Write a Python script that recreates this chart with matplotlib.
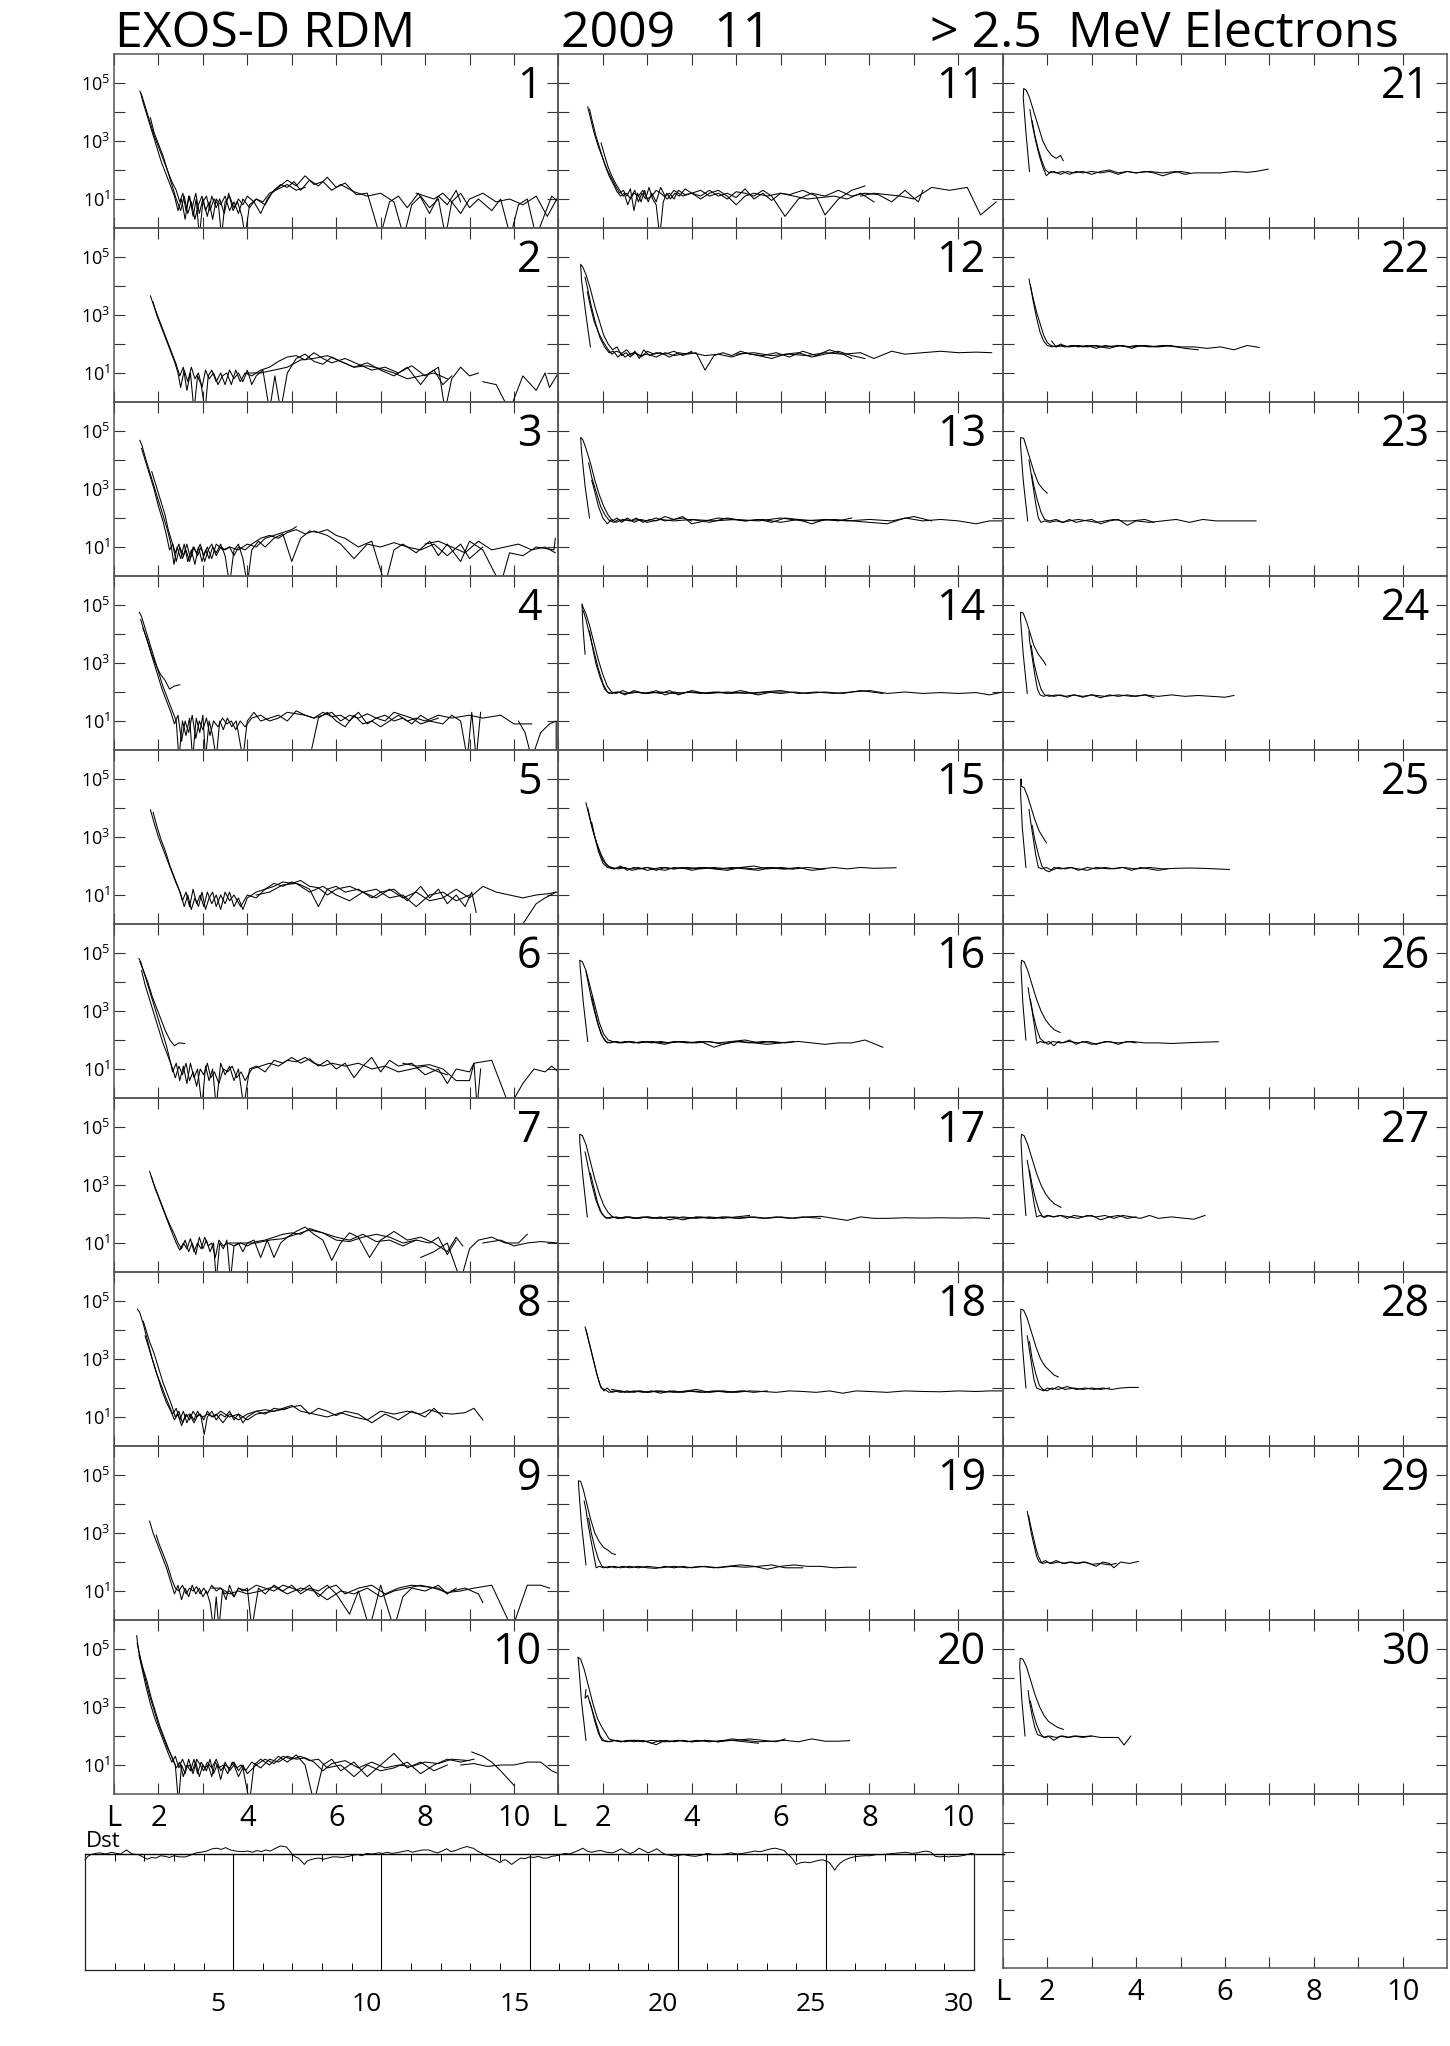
import numpy as np
import matplotlib
matplotlib.use('Agg')
import matplotlib.pyplot as plt
from matplotlib.transforms import blended_transform_factory

plt.rcParams['font.family'] = ['Open Sans', 'DejaVu Sans']

# ---- flux passes per day: (L, log10 flux) -------------------------------
P1 = [
 [(1.58,4.72),(1.62,4.6),(1.7,4.2),(1.8,3.7),(1.9,3.2),(2.0,2.8),(2.1,2.4),(2.2,2.0),(2.3,1.6),(2.4,1.3),(2.48,0.9),(2.55,1.2),(2.62,0.6),(2.7,1.1),(2.78,0.4),(2.85,1.0),(2.92,-0.3),(3.0,0.9),(3.08,1.1),(3.16,0.6),(3.25,1.0),(3.35,0.8),(3.42,-0.3),(3.5,0.9),(3.6,1.1),(3.7,0.7),(3.8,1.0),(3.9,0.8),(4.0,1.1),(4.15,0.9),(4.3,0.5),(4.45,1.0),(4.6,1.3),(4.75,1.5),(4.9,1.4),(5.05,1.6),(5.2,1.3),(5.4,1.65),(5.6,1.45),(5.8,1.75),(6.0,1.4),(6.2,1.55),(6.45,1.15),(6.7,1.2),(6.99,-0.3),(7.2,0.9),(7.4,1.1),(7.6,0.7),(7.85,1.2),(8.1,0.5),(8.3,1.1),(8.5,0.8),(8.7,1.3),(8.8,0.9)],
 [(1.6,4.65),(1.66,4.3),(1.76,3.8),(1.86,3.3),(1.96,2.8),(2.06,2.3),(2.16,1.9),(2.26,1.5),(2.36,1.1),(2.44,0.6),(2.52,1.0),(2.6,0.3),(2.68,1.1),(2.76,0.7),(2.84,1.2),(2.92,0.5),(3.0,1.0),(3.1,0.4),(3.2,1.1),(3.3,0.7),(3.38,1.0),(3.48,0.5),(3.58,1.2),(3.68,0.6),(3.78,0.9),(3.88,0.4),(3.95,-0.3),(4.05,0.8),(4.2,1.0),(4.4,0.8),(4.55,1.2),(4.7,1.4),(4.9,1.65),(5.1,1.45),(5.3,1.8),(5.5,1.5),(5.7,1.6),(5.9,1.3),(6.1,1.5),(6.4,1.25),(6.7,1.1),(7.0,1.2),(7.3,0.9),(7.52,-0.3),(7.7,0.8),(7.9,1.1),(8.1,0.7),(8.3,1.0),(8.46,-0.3),(8.6,0.9),(8.8,1.2),(9.0,0.7),(9.2,1.0),(9.5,0.6),(9.7,1.0),(9.92,-0.3),(10.1,0.8),(10.3,1.0),(10.5,-0.3),(10.7,0.5),(10.85,1.1),(11.0,0.9)],
 [(1.82,3.8),(1.9,3.3),(2.0,2.9),(2.1,2.5),(2.2,2.0),(2.3,1.5),(2.4,1.0),(2.5,0.6),(2.58,1.1),(2.66,0.5),(2.74,0.9),(2.82,0.3),(2.9,0.8),(2.98,1.1),(3.06,0.6),(3.14,0.9),(3.22,0.3),(3.3,1.0),(3.4,0.8),(3.5,1.1),(3.6,0.6),(3.7,0.9),(3.8,0.5),(3.9,1.0),(4.05,0.7),(4.2,1.0),(4.35,0.9),(4.5,1.2),(4.7,1.35),(4.9,1.5),(5.1,1.3),(5.3,1.4)],
 [(7.8,1.2),(8.0,1.1),(8.2,1.0),(8.4,1.2),(8.6,0.9),(8.8,0.5),(9.0,1.0),(9.3,1.2),(9.6,0.9),(9.9,1.0),(10.2,0.8),(10.5,1.1),(10.75,0.4),(11.0,1.1)],
]
P2 = [
 [(1.82,3.66),(1.9,3.3),(2.0,2.9),(2.1,2.5),(2.2,2.1),(2.3,1.7),(2.4,1.3),(2.48,0.9),(2.56,1.2),(2.64,0.4),(2.72,1.0),(2.8,-0.3),(2.88,0.9),(2.96,0.6),(3.05,-0.3),(3.12,0.9),(3.2,1.1),(3.3,0.7),(3.4,1.0),(3.5,0.6),(3.6,1.1),(3.7,0.8),(3.8,1.0),(3.9,0.7),(4.0,1.1),(4.1,0.6),(4.2,0.9),(4.35,1.1),(4.5,-0.3),(4.62,0.9),(4.75,-0.3),(4.9,1.0),(5.1,1.5),(5.3,1.65),(5.5,1.4),(5.7,1.3),(5.9,1.55),(6.1,1.4),(6.4,1.2),(6.7,1.35),(7.0,1.1),(7.3,0.9),(7.6,1.2),(7.9,0.6),(8.1,1.0),(8.3,1.2),(8.45,-0.3),(8.6,0.8),(8.8,1.2),(9.0,0.9),(9.2,1.0)],
 [(1.88,3.45),(1.96,3.0),(2.06,2.6),(2.16,2.2),(2.26,1.8),(2.36,1.4),(2.44,1.0),(2.5,0.5),(2.58,1.1),(2.66,0.7),(2.74,1.2),(2.82,0.8),(2.9,1.0),(2.98,0.5),(3.06,1.1),(3.14,0.8),(3.24,1.0),(3.34,0.6),(3.44,0.9),(3.54,1.0),(3.64,0.6),(3.74,1.1),(3.84,0.7),(3.95,1.0),(4.1,0.9),(4.3,1.1),(4.5,1.2),(4.7,1.4),(4.9,1.55),(5.1,1.6),(5.3,1.45),(5.5,1.7),(5.7,1.5),(5.9,1.35),(6.2,1.5),(6.5,1.3),(6.8,1.1),(7.1,1.2),(7.4,1.0),(7.7,1.25),(8.0,0.9),(8.2,1.1),(8.4,0.6),(8.6,0.9)],
 [(4.0,1.0),(4.3,1.0),(4.6,1.1),(4.9,1.2),(5.2,1.45),(5.5,1.5),(5.8,1.6),(6.1,1.4),(6.4,1.2),(6.7,1.25),(7.0,1.15),(7.3,1.0),(7.6,0.8),(7.9,0.9),(8.2,1.0),(8.5,0.8)],
 [(9.3,0.7),(9.6,0.6),(9.9,-0.3),(10.2,0.9),(10.5,0.4),(10.7,1.0),(10.8,0.5),(11.0,1.0)],
]
P3 = [
 [(1.58,4.68),(1.63,4.5),(1.72,4.0),(1.82,3.5),(1.92,3.0),(2.02,2.5),(2.12,2.0),(2.2,1.6),(2.28,1.1),(2.35,0.4),(2.42,1.0),(2.5,0.6),(2.58,1.1),(2.66,0.5),(2.74,0.9),(2.82,0.4),(2.9,1.0),(2.98,0.5),(3.06,0.9),(3.14,0.6),(3.22,1.0),(3.3,0.8),(3.4,1.1),(3.5,0.7),(3.6,-0.3),(3.7,0.9),(3.8,1.1),(3.9,0.6),(4.0,-0.3),(4.1,0.9),(4.25,1.2),(4.4,1.0),(4.6,1.3),(4.8,1.45),(5.0,0.5),(5.2,1.3),(5.4,1.55),(5.6,1.5),(5.8,1.6),(6.0,1.4),(6.2,1.3),(6.5,1.0),(6.8,1.2),(7.1,-0.3),(7.3,0.9),(7.5,1.1),(7.8,0.8),(8.1,1.2),(8.3,0.7),(8.5,1.1),(8.8,0.5),(9.0,1.2),(9.3,0.9),(9.7,-0.3),(9.9,0.8),(10.2,0.7),(10.5,1.0),(10.9,0.9),(10.93,1.3)],
 [(1.62,4.4),(1.7,4.0),(1.8,3.5),(1.9,3.0),(2.0,2.4),(2.1,1.9),(2.18,1.4),(2.25,0.9),(2.32,1.1),(2.4,0.5),(2.48,1.0),(2.56,0.7),(2.64,1.1),(2.72,0.6),(2.8,1.0),(2.88,0.7),(2.96,1.0),(3.04,0.5),(3.12,0.9),(3.2,1.1),(3.3,0.7),(3.4,1.0),(3.5,0.9),(3.6,1.0),(3.7,0.7),(3.8,1.0),(3.95,0.9),(4.1,1.1),(4.3,1.3),(4.5,1.4),(4.7,1.3),(4.9,1.5),(5.1,1.6),(5.3,1.45),(5.5,1.55),(5.8,1.4),(6.1,1.1),(6.4,0.6),(6.7,1.1),(7.0,1.0),(7.3,1.15),(7.6,1.0),(7.9,0.9),(8.2,1.1),(8.5,0.7),(8.8,1.1),(9.0,0.6),(9.3,1.0)],
 [(1.85,3.6),(1.95,3.1),(2.05,2.6),(2.15,2.1),(2.22,1.6),(2.3,1.2),(2.38,0.8),(2.46,1.1),(2.54,0.6),(2.62,0.9),(2.7,0.5),(2.78,1.0),(2.86,0.8),(2.94,1.1),(3.02,0.7),(3.1,1.0),(3.2,0.6),(3.3,1.1),(3.45,0.9),(3.6,1.0),(3.8,0.9),(4.0,1.1),(4.2,1.0),(4.4,1.3),(4.6,1.4),(4.8,1.5),(5.0,1.6),(5.1,1.7)],
 [(8.0,1.1),(8.3,1.2),(8.6,1.0),(8.9,0.8),(9.2,1.2),(9.5,0.9),(9.8,1.0),(10.1,1.1),(10.4,0.9),(10.7,1.0),(10.93,0.8)],
]
P4 = [
 [(1.57,4.75),(1.62,4.6),(1.7,4.2),(1.8,3.7),(1.9,3.2),(2.0,2.7),(2.1,2.2),(2.2,1.8),(2.3,1.4),(2.4,1.0),(2.46,-0.3),(2.54,1.0),(2.62,0.5),(2.7,1.1),(2.77,-0.3),(2.85,1.1),(2.93,0.6),(3.0,1.2),(3.06,-0.3),(3.14,1.0),(3.22,0.5),(3.3,-0.3),(3.38,1.0),(3.46,0.7),(3.55,1.1),(3.65,0.8),(3.75,1.0),(3.9,-0.3),(4.0,1.0),(4.15,1.3),(4.3,1.0),(4.5,1.1),(4.7,1.2),(4.9,1.0),(5.1,1.35),(5.3,1.2),(5.5,1.1),(5.7,1.3),(5.9,1.15),(6.1,1.2),(6.3,1.0),(6.5,1.3),(6.7,0.9),(6.9,1.1),(7.1,1.0),(7.3,1.3),(7.5,1.2),(7.7,1.1),(7.9,0.9),(8.1,1.0),(8.4,0.9),(8.6,1.2),(8.8,1.0),(8.95,-0.3),(9.05,1.3),(9.15,-0.3),(9.25,1.3)],
 [(1.6,4.5),(1.68,4.1),(1.78,3.6),(1.88,3.1),(1.98,2.6),(2.08,2.1),(2.18,1.7),(2.28,1.3),(2.36,0.9),(2.44,1.2),(2.52,0.3),(2.6,1.0),(2.68,0.6),(2.76,1.2),(2.84,0.4),(2.92,1.0),(3.0,0.7),(3.08,1.1),(3.16,0.5),(3.24,1.0),(3.34,0.8),(3.44,1.1),(3.54,0.9),(3.64,1.0),(3.74,0.7),(3.84,1.0),(3.95,0.8),(4.1,1.1),(4.3,1.2),(4.5,1.0),(4.7,1.1),(4.9,1.3),(5.1,1.25),(5.3,1.2),(5.5,1.1),(5.7,1.2),(5.9,1.3),(6.1,1.0),(6.3,1.2),(6.5,1.1),(6.7,1.25),(6.9,1.1),(7.1,1.2),(7.3,1.0),(7.5,1.1),(7.7,0.9),(7.9,1.2),(8.1,1.0),(8.3,1.1)],
 [(1.65,4.2),(1.75,3.8),(1.85,3.3),(1.95,2.9),(2.05,2.6),(2.15,2.4),(2.25,2.1),(2.35,2.2),(2.48,2.25)],
 [(5.4,-0.3),(5.6,1.1),(5.8,1.3),(6.0,1.0),(6.2,0.8),(6.4,1.2),(6.6,0.9),(6.8,1.0),(7.0,0.8),(7.2,1.0),(7.4,1.2),(7.6,1.0),(7.8,1.1),(8.0,1.0),(8.3,1.2),(8.6,1.1),(9.0,1.2),(9.3,1.1),(9.7,1.2),(10.0,0.9),(10.4,0.9)],
 [(10.1,1.0),(10.25,0.6),(10.4,-0.3),(10.6,0.6),(10.8,0.9),(10.95,1.0),(10.95,-0.3)],
]
P5 = [
 [(1.82,3.94),(1.9,3.5),(2.0,3.0),(2.1,2.6),(2.2,2.2),(2.3,1.8),(2.4,1.4),(2.5,1.05),(2.58,0.6),(2.66,1.0),(2.74,0.5),(2.82,0.9),(2.9,0.6),(2.98,1.1),(3.06,0.5),(3.14,0.9),(3.22,1.1),(3.3,0.6),(3.4,1.0),(3.5,0.7),(3.6,1.1),(3.7,0.6),(3.8,0.9),(3.9,0.5),(4.0,0.9),(4.2,1.1),(4.4,1.2),(4.6,1.4),(4.8,1.3),(5.0,1.45),(5.2,1.35),(5.4,1.2),(5.6,0.6),(5.8,1.2),(6.0,1.3),(6.2,1.1),(6.5,1.2),(6.8,0.9),(7.0,1.1),(7.3,1.2),(7.6,0.8),(7.9,1.3),(8.1,0.9),(8.3,1.2),(8.5,0.7),(8.7,1.0),(8.9,0.6),(9.05,1.1),(9.15,0.4)],
 [(1.88,3.85),(1.96,3.4),(2.06,2.9),(2.16,2.5),(2.26,2.0),(2.36,1.6),(2.46,1.2),(2.54,0.8),(2.62,1.1),(2.7,0.6),(2.78,1.2),(2.86,0.7),(2.94,1.0),(3.02,0.6),(3.1,1.1),(3.2,0.7),(3.3,1.0),(3.4,0.5),(3.5,1.1),(3.6,0.8),(3.7,1.0),(3.85,0.6),(4.0,1.0),(4.2,0.9),(4.4,1.2),(4.6,1.3),(4.8,1.45),(5.0,1.4),(5.2,1.5),(5.4,1.3),(5.6,1.25),(5.8,1.0),(6.0,1.2),(6.3,1.3),(6.6,1.1),(6.9,1.2),(7.2,0.9),(7.5,1.0),(7.8,0.6),(8.1,1.0),(8.4,1.1),(8.7,0.8),(9.0,1.0)],
 [(4.2,1.0),(4.5,1.1),(4.8,1.35),(5.1,1.4),(5.4,1.1),(5.7,1.3),(6.0,1.0),(6.3,0.8),(6.6,1.1),(6.9,0.9),(7.2,1.2),(7.5,0.9),(7.8,1.1),(8.1,0.8),(8.4,0.9),(8.7,1.2),(9.0,0.9),(9.3,1.3),(9.6,1.1),(9.9,1.0),(10.2,0.9),(10.5,1.0),(10.8,1.05),(10.95,1.1)],
 [(10.2,0.0),(10.5,0.7),(10.7,0.9),(10.95,1.1)],
]
P6 = [
 [(1.56,4.81),(1.6,4.7),(1.68,4.3),(1.78,3.8),(1.88,3.3),(1.98,2.8),(2.08,2.3),(2.18,1.8),(2.26,1.3),(2.32,0.9),(2.4,1.2),(2.48,0.6),(2.56,1.1),(2.64,0.5),(2.72,1.2),(2.8,0.7),(2.88,1.0),(2.98,-0.3),(3.06,1.1),(3.14,0.6),(3.22,1.0),(3.3,-0.3),(3.4,1.2),(3.5,0.8),(3.6,1.1),(3.7,0.6),(3.8,1.0),(3.92,-0.3),(4.05,1.0),(4.2,1.1),(4.4,0.9),(4.6,1.3),(4.8,1.2),(5.0,1.4),(5.2,1.2),(5.4,1.35),(5.6,1.1),(5.8,1.3),(6.0,1.0),(6.2,1.2),(6.4,0.7),(6.6,1.1),(6.8,1.4),(7.0,0.9),(7.2,1.3),(7.4,1.1),(7.7,1.2),(8.0,0.8),(8.3,1.0),(8.5,0.5),(8.7,1.0),(9.0,0.9),(9.1,1.2),(9.17,-0.3),(9.25,1.0)],
 [(1.58,4.7),(1.66,4.4),(1.76,4.0),(1.86,3.5),(1.96,3.1),(2.06,2.7),(2.16,2.3),(2.26,2.0),(2.36,1.8),(2.46,1.9),(2.59,1.88)],
 [(1.62,4.4),(1.7,3.9),(1.8,3.4),(1.9,2.9),(2.0,2.4),(2.1,1.9),(2.2,1.5),(2.3,1.1),(2.38,0.7),(2.46,1.1),(2.54,0.8),(2.62,1.2),(2.7,0.6),(2.78,0.9),(2.86,0.4),(2.94,1.0),(3.02,0.8),(3.1,1.2),(3.18,0.7),(3.26,0.9),(3.36,0.5),(3.46,1.0),(3.56,0.9),(3.66,1.1),(3.76,0.7),(3.86,0.9),(3.95,0.6),(4.1,1.0),(4.3,1.1),(4.5,1.2),(4.7,1.1),(4.9,1.3),(5.1,1.25),(5.3,1.4),(5.5,1.2),(5.7,1.1),(5.9,1.2),(6.2,1.1),(6.5,1.2),(6.8,1.0),(7.1,1.1),(7.4,0.9),(7.7,1.0),(8.0,1.1),(8.3,0.9),(8.5,0.8)],
 [(7.5,1.2),(7.8,1.1),(8.1,1.15),(8.4,1.0),(8.7,0.6),(9.0,0.6),(9.1,1.2),(9.5,1.3),(9.9,-0.3),(10.2,0.5),(10.45,1.0),(10.7,0.9),(10.85,1.1),(11.0,0.9)],
]
P7 = [
 [(1.8,3.47),(1.88,3.1),(1.98,2.7),(2.08,2.3),(2.18,1.9),(2.28,1.55),(2.36,1.3),(2.44,1.0),(2.52,0.8),(2.6,1.1),(2.68,0.7),(2.76,1.0),(2.84,0.6),(2.92,1.2),(3.0,0.8),(3.08,1.1),(3.16,0.7),(3.24,1.0),(3.3,-0.3),(3.38,1.0),(3.46,0.8),(3.54,1.1),(3.62,-0.3),(3.7,0.9),(3.8,1.0),(3.9,0.7),(4.0,1.0),(4.15,1.1),(4.3,0.5),(4.45,1.1),(4.6,0.5),(4.75,1.0),(4.9,1.2),(5.1,1.4),(5.3,1.55),(5.5,1.3),(5.7,1.1),(5.9,0.4),(6.1,1.0),(6.3,1.35),(6.5,1.2),(6.75,0.5),(7.0,1.1),(7.3,1.4),(7.6,1.1),(7.9,1.2),(8.2,1.0),(8.5,0.7),(8.7,1.2),(8.85,0.9)],
 [(1.84,3.3),(1.92,2.9),(2.02,2.5),(2.12,2.1),(2.22,1.7),(2.32,1.3),(2.4,1.0),(2.48,0.75),(2.56,1.0),(2.64,0.8),(2.72,1.15),(2.8,0.7),(2.88,1.0),(2.96,0.8),(3.04,1.2),(3.12,0.9),(3.2,1.0),(3.28,0.5),(3.36,1.1),(3.46,0.9),(3.56,1.0),(3.7,0.9),(3.85,1.0),(4.0,0.9),(4.2,1.05),(4.4,1.1),(4.6,1.2),(4.8,1.3),(5.0,1.35),(5.2,1.3),(5.4,1.5),(5.6,1.4),(5.8,1.3),(6.0,1.2),(6.3,1.1),(6.6,1.3),(6.9,1.05),(7.2,1.1),(7.5,0.9),(7.8,1.1),(8.1,1.0),(8.3,1.2),(8.5,0.6),(8.7,1.1)],
 [(3.6,1.0),(3.9,1.0),(4.2,1.0),(4.5,1.1),(4.8,1.15),(5.1,1.3),(5.4,1.45),(5.7,1.35),(6.0,1.1),(6.3,1.05),(6.6,1.2),(6.9,1.3),(7.2,1.2),(7.5,1.0),(7.8,1.1)],
 [(7.9,0.5),(8.2,0.7),(8.5,1.0),(8.8,-0.3),(9.0,0.8),(9.2,1.1),(9.5,1.2),(9.8,1.0),(10.1,1.0),(10.3,1.3)],
 [(9.3,1.0),(9.7,1.1),(10.0,0.9),(10.3,1.0),(10.6,1.05),(11.0,1.0)],
]
P8 = [
 [(1.53,4.72),(1.58,4.6),(1.66,4.2),(1.76,3.6),(1.86,3.0),(1.96,2.5),(2.06,2.1),(2.16,1.7),(2.24,1.4),(2.32,1.1),(2.4,1.3),(2.48,0.9),(2.56,1.2),(2.64,0.8),(2.72,1.1),(2.8,0.9),(2.88,1.2),(2.96,1.0),(3.03,0.4),(3.1,1.0),(3.2,1.2),(3.3,0.9),(3.4,1.1),(3.5,1.0),(3.6,1.2),(3.7,0.9),(3.8,1.1),(3.9,0.8),(4.0,1.0),(4.2,1.2),(4.4,1.1),(4.6,1.3),(4.8,1.25),(5.0,1.35),(5.2,1.4),(5.4,1.1),(5.6,1.3),(5.8,1.2),(6.0,1.05),(6.2,1.2),(6.5,1.1),(6.8,0.8),(7.1,1.1),(7.4,0.9),(7.7,1.2),(8.0,1.0),(8.2,1.3),(8.4,1.0)],
 [(1.66,4.3),(1.72,4.0),(1.8,3.6),(1.9,3.2),(2.0,2.7),(2.1,2.2),(2.2,1.8),(2.3,1.4),(2.38,1.0),(2.46,1.2),(2.54,0.8),(2.62,1.1),(2.7,0.9),(2.78,1.2),(2.86,1.0),(2.94,1.1),(3.02,0.9),(3.1,1.2),(3.2,1.0),(3.3,1.1),(3.45,0.8),(3.6,1.1),(3.8,0.9),(4.0,1.1),(4.2,1.2),(4.4,1.25),(4.6,1.2),(4.8,1.3),(5.0,1.4),(5.2,1.2),(5.5,1.1),(5.8,1.0),(6.1,1.15),(6.4,1.0),(6.7,0.9),(7.0,1.2),(7.3,1.1),(7.6,1.2),(7.9,1.1),(8.1,1.25),(8.3,1.15),(8.6,1.1),(8.9,1.15),(9.1,1.3),(9.3,0.9)],
 [(1.7,3.8),(1.78,3.4),(1.88,2.9),(1.98,2.4),(2.08,1.9),(2.18,1.5),(2.28,1.2),(2.36,0.9),(2.44,1.1),(2.52,0.7),(2.6,1.0),(2.7,1.1),(2.8,0.8),(2.9,1.1),(3.0,1.0),(3.1,1.1),(3.25,1.0),(3.4,1.2),(3.6,1.0),(3.8,1.1),(4.0,0.9),(4.2,1.1),(4.4,1.15),(4.6,1.2),(4.9,1.3)],
]
P9 = [
 [(1.8,3.41),(1.88,3.0),(1.98,2.6),(2.08,2.2),(2.18,1.8),(2.28,1.3),(2.36,0.9),(2.44,1.2),(2.52,0.7),(2.6,1.1),(2.68,0.8),(2.76,1.2),(2.84,0.9),(2.92,1.1),(3.0,0.8),(3.08,1.0),(3.16,0.6),(3.24,-0.3),(3.3,0.8),(3.36,-0.3),(3.44,1.0),(3.52,0.7),(3.6,1.2),(3.7,0.8),(3.8,1.1),(3.9,1.0),(4.0,1.1),(4.1,-0.3),(4.25,1.1),(4.4,0.9),(4.6,1.2),(4.8,1.0),(5.0,1.2),(5.2,0.9),(5.4,1.1),(5.6,1.0),(5.8,1.2),(6.0,0.9),(6.3,0.2),(6.5,1.0),(6.75,-0.3),(7.0,1.2),(7.3,-0.3),(7.5,0.8),(7.7,1.1),(8.0,1.0),(8.3,1.2),(8.5,0.9),(8.7,1.1)],
 [(1.95,2.93),(2.02,2.6),(2.1,2.3),(2.2,1.9),(2.3,1.4),(2.38,1.1),(2.46,1.0),(2.54,1.2),(2.62,0.9),(2.7,1.1),(2.78,1.0),(2.86,1.15),(2.94,0.9),(3.02,1.1),(3.1,0.9),(3.2,1.2),(3.3,1.0),(3.4,1.1),(3.5,0.9),(3.6,1.0),(3.7,0.8),(3.8,1.1),(4.0,1.0),(4.2,1.2),(4.4,1.1),(4.6,1.0),(4.8,1.2),(5.0,1.1),(5.2,1.0),(5.4,1.2),(5.6,0.8),(5.8,1.1),(6.0,1.2),(6.2,0.9),(6.5,1.1),(6.8,1.2),(7.1,0.9),(7.4,1.1),(7.7,1.2),(8.0,1.15),(8.3,1.1),(8.5,0.9)],
 [(3.2,1.1),(3.4,1.1),(3.6,0.9),(3.8,1.0),(4.0,0.9),(4.3,1.0),(4.6,1.15),(4.9,0.9),(5.2,1.1),(5.5,1.0),(5.8,0.7),(6.1,1.0),(6.4,0.9),(6.7,1.1),(7.0,0.8),(7.3,1.0),(7.6,1.1),(7.9,1.2),(8.2,1.1),(8.5,0.95),(8.8,1.0),(9.1,1.1),(9.5,1.2),(9.96,-0.3),(10.3,1.2),(10.6,1.2),(10.8,1.1)],
 [(8.6,1.0),(8.9,1.1),(9.2,0.9),(9.3,0.6)],
]
P10 = [
 [(1.51,5.46),(1.54,5.1),(1.6,4.6),(1.7,4.0),(1.8,3.4),(1.9,2.9),(2.0,2.4),(2.1,2.0),(2.2,1.6),(2.3,1.3),(2.38,1.0),(2.45,-0.3),(2.52,1.0),(2.6,0.7),(2.68,1.2),(2.76,0.8),(2.84,1.1),(2.92,0.6),(3.0,1.0),(3.08,0.8),(3.16,1.2),(3.24,0.7),(3.32,1.0),(3.4,0.5),(3.5,1.1),(3.6,0.8),(3.7,1.0),(3.8,0.6),(3.9,0.9),(4.05,-0.3),(4.15,1.0),(4.3,1.2),(4.5,1.0),(4.7,1.3),(4.9,1.1),(5.1,1.35),(5.3,1.0),(5.5,-0.3),(5.7,1.0),(5.9,1.2),(6.1,0.8),(6.4,1.1),(6.7,0.6),(7.0,1.0),(7.3,1.4),(7.6,0.9),(7.9,1.1),(8.2,0.8),(8.5,1.0)],
 [(1.52,5.2),(1.56,4.9),(1.64,4.4),(1.74,3.9),(1.84,3.3),(1.94,2.8),(2.04,2.3),(2.14,1.9),(2.24,1.5),(2.32,1.2),(2.4,0.9),(2.48,1.1),(2.56,0.6),(2.64,1.0),(2.72,0.8),(2.8,1.2),(2.88,0.7),(2.96,1.1),(3.04,0.9),(3.12,1.0),(3.2,0.6),(3.28,1.1),(3.36,0.9),(3.46,1.0),(3.56,0.7),(3.66,1.1),(3.76,0.9),(3.86,1.0),(3.96,0.8),(4.1,1.1),(4.3,0.9),(4.5,1.2),(4.7,1.1),(4.9,1.3),(5.1,1.2),(5.3,1.25),(5.5,1.1),(5.7,0.8),(5.9,1.05),(6.2,1.15),(6.5,0.9),(6.8,1.1),(7.1,0.9),(7.4,1.0),(7.7,0.95),(8.0,1.1),(8.3,1.05),(8.6,1.2),(9.0,1.15)],
 [(1.56,4.8),(1.62,4.4),(1.72,3.7),(1.82,3.1),(1.92,2.6),(2.02,2.2),(2.12,1.8),(2.22,1.4),(2.3,1.1),(2.38,1.3),(2.46,0.9),(2.54,1.2),(2.62,0.9),(2.7,1.0),(2.78,0.7),(2.86,1.2),(2.94,1.0),(3.02,0.8),(3.1,1.1),(3.2,0.9),(3.3,1.2),(3.4,0.8),(3.5,1.0),(3.6,0.9),(3.7,1.1),(3.8,0.8),(3.9,1.0),(4.0,0.7),(4.2,1.0),(4.4,1.2),(4.6,1.05),(4.8,1.3),(5.0,1.2),(5.2,1.3),(5.4,1.15),(5.6,1.2),(5.8,0.9),(6.1,1.0),(6.4,0.6),(6.7,1.0),(7.0,0.8),(7.3,0.9),(7.6,1.1),(7.9,0.7),(8.2,1.0),(8.5,1.2),(8.8,1.1),(9.1,1.2)],
 [(9.05,1.45),(9.3,1.3),(9.5,1.1),(9.7,0.8),(10.0,0.3)],
 [(8.8,1.0),(9.1,1.05),(9.4,0.95),(9.7,1.0),(10.0,1.0),(10.3,1.1),(10.6,1.1),(10.85,0.8),(11.0,0.7)],
]
P11 = [
 [(1.66,4.18),(1.72,3.8),(1.8,3.3),(1.9,2.8),(2.0,2.4),(2.1,2.0),(2.2,1.7),(2.3,1.4),(2.38,1.2),(2.46,1.3),(2.54,1.1),(2.62,1.35),(2.7,0.6),(2.78,1.2),(2.86,0.9),(2.94,1.3),(3.02,0.9),(3.1,1.2),(3.2,0.9),(3.3,1.4),(3.4,1.1),(3.5,1.2),(3.6,1.0),(3.7,1.3),(3.85,1.15),(4.0,1.2),(4.2,1.1),(4.4,1.3),(4.6,1.1),(4.8,1.2),(5.0,1.05),(5.2,1.35),(5.4,1.0),(5.6,1.2),(5.8,0.95),(6.0,1.2),(6.2,1.15),(6.5,1.3),(6.8,1.1),(7.0,0.45),(7.3,1.0),(7.6,1.3),(7.9,1.45)],
 [(1.7,4.1),(1.76,3.7),(1.84,3.2),(1.94,2.7),(2.04,2.2),(2.14,1.8),(2.24,1.5),(2.32,1.25),(2.4,1.1),(2.48,1.2),(2.56,0.8),(2.64,1.1),(2.72,1.3),(2.8,0.9),(2.88,1.2),(2.96,1.0),(3.04,1.4),(3.12,1.0),(3.2,0.8),(3.28,-0.3),(3.36,0.9),(3.44,1.2),(3.52,1.0),(3.62,1.2),(3.72,1.1),(3.85,1.35),(4.0,1.2),(4.2,1.3),(4.4,1.1),(4.6,1.2),(4.8,1.0),(5.0,1.25),(5.2,1.2),(5.4,1.1),(5.6,1.3),(5.8,1.1),(6.1,0.4),(6.4,1.0),(6.7,1.2),(7.0,1.1),(7.3,1.3),(7.6,1.1),(7.9,1.2),(8.2,1.15),(8.5,0.9),(8.8,1.3),(9.1,0.9),(9.2,1.3)],
 [(1.96,2.93),(2.04,2.5),(2.12,2.1),(2.2,1.8),(2.3,1.5),(2.38,1.3),(2.46,1.1),(2.54,1.2),(2.62,1.0),(2.7,1.2),(2.8,1.1),(2.9,1.3),(3.0,1.0),(3.1,1.1),(3.2,1.3),(3.3,1.2),(3.45,1.0),(3.6,1.3),(3.8,1.1),(4.0,1.2),(4.2,1.0),(4.4,1.2),(4.6,1.3),(4.8,1.1),(5.0,0.8),(5.2,1.1),(5.4,1.2),(5.7,1.1),(6.0,1.2),(6.3,1.1),(6.6,1.0),(6.9,1.05),(7.2,1.1),(7.5,1.0),(7.8,1.2),(8.1,0.9)],
 [(7.8,1.1),(8.1,1.2),(8.4,1.15),(8.7,1.1),(9.0,1.0),(9.4,1.4),(9.8,1.3),(10.2,1.4),(10.5,0.45),(10.85,0.9)],
]
P12 = [
 [(1.72,1.9),(1.62,3.0),(1.52,4.2),(1.5,4.75),(1.55,4.65),(1.62,4.4),(1.72,3.9),(1.82,3.3),(1.92,2.8),(2.02,2.3),(2.12,2.0),(2.22,1.8),(2.32,1.9),(2.42,1.6),(2.52,1.7),(2.62,1.55),(2.72,1.75),(2.82,1.5),(2.92,1.8),(3.05,1.6),(3.2,1.7),(3.4,1.65),(3.6,1.75),(3.8,1.6),(4.0,1.75)],
 [(1.6,4.3),(1.66,3.9),(1.74,3.3),(1.84,2.7),(1.94,2.2),(2.04,1.9),(2.14,1.7),(2.24,1.75),(2.34,1.55),(2.44,1.7),(2.54,1.8),(2.64,1.6),(2.74,1.7),(2.86,1.55),(3.0,1.75),(3.15,1.65),(3.3,1.7),(3.5,1.55),(3.7,1.7),(3.9,1.65),(4.1,1.7),(4.3,1.1),(4.5,1.6),(4.7,1.7),(4.9,1.6),(5.1,1.75),(5.3,1.65),(5.6,1.6),(5.9,1.7),(6.2,1.55),(6.5,1.75),(6.8,1.6),(7.1,1.8),(7.4,1.65),(7.6,1.5)],
 [(1.65,3.8),(1.72,3.3),(1.8,2.8),(1.9,2.4),(2.0,2.1),(2.1,1.85),(2.2,1.65),(2.3,1.75),(2.4,1.7),(2.5,1.55),(2.6,1.65),(2.7,1.7),(2.85,1.6),(3.0,1.65),(3.2,1.55),(3.4,1.7),(3.6,1.6),(3.8,1.65),(4.0,1.7),(4.3,1.6),(4.6,1.65),(4.9,1.55),(5.2,1.7),(5.5,1.6),(5.8,1.5),(6.1,1.65),(6.4,1.7),(6.7,1.55),(7.0,1.65),(7.3,1.75),(7.6,1.6),(7.9,1.5)],
 [(5.0,1.65),(5.4,1.7),(5.8,1.6),(6.2,1.65),(6.6,1.6),(7.0,1.7),(7.4,1.65),(7.8,1.7),(8.1,1.5),(8.5,1.75),(8.8,1.65),(9.2,1.7),(9.6,1.75),(10.0,1.7),(10.4,1.72),(10.75,1.7)],
]
P13 = [
 [(1.7,2.0),(1.6,3.1),(1.52,4.3),(1.5,4.78),(1.55,4.7),(1.62,4.4),(1.72,3.9),(1.82,3.3),(1.92,2.8),(2.02,2.4),(2.12,2.1),(2.22,1.9),(2.32,2.0),(2.42,1.85),(2.52,1.95),(2.62,1.9),(2.75,2.0),(2.9,1.85),(3.05,1.95),(3.2,1.9),(3.4,2.05),(3.6,1.95),(3.8,2.0),(4.0,1.9)],
 [(1.68,3.9),(1.75,3.4),(1.85,2.9),(1.95,2.4),(2.05,2.1),(2.15,1.9),(2.25,1.85),(2.35,1.95),(2.45,1.9),(2.55,2.0),(2.7,1.85),(2.85,1.95),(3.0,1.9),(3.2,2.0),(3.4,1.9),(3.6,1.95),(3.8,2.05),(4.0,1.8),(4.3,1.9),(4.6,2.0),(4.9,1.95),(5.2,1.9),(5.5,1.95),(5.8,1.85),(6.1,2.0),(6.4,1.95),(6.7,1.8),(7.0,1.95),(7.3,1.9),(7.6,2.0)],
 [(1.75,3.3),(1.82,2.9),(1.9,2.4),(2.0,2.0),(2.1,1.8),(2.2,1.95),(2.3,1.85),(2.45,1.95),(2.6,1.9),(2.8,1.95),(3.0,1.85),(3.3,1.95),(3.6,1.9),(4.0,1.95),(4.4,1.85),(4.8,2.0),(5.2,1.9),(5.6,1.95),(6.0,1.85),(6.4,1.95),(6.8,1.9),(7.2,1.95),(7.6,1.9),(8.0,1.85),(8.4,1.8),(8.8,2.0),(9.2,1.9),(9.6,1.95),(10.0,1.9),(10.4,1.8),(10.7,1.9),(11.0,1.9)],
 [(4.0,1.95),(4.5,1.9),(5.0,1.95),(5.5,1.9),(6.0,2.0),(6.5,1.9),(7.0,1.95),(7.5,1.9),(8.0,1.95),(8.5,1.9),(9.0,2.05),(9.4,1.9)],
]
P14 = [
 [(1.6,3.3),(1.55,4.3),(1.53,5.04),(1.56,4.9),(1.62,4.7),(1.7,4.3),(1.8,3.7),(1.9,3.1),(2.0,2.6),(2.1,2.2),(2.2,2.0),(2.3,1.95),(2.45,2.05),(2.6,1.95),(2.8,2.0),(3.0,1.95),(3.2,2.05),(3.4,1.9),(3.6,2.0),(3.8,1.95),(4.0,2.05),(4.3,1.95),(4.6,2.0),(4.9,1.95),(5.2,2.0),(5.5,1.9),(5.8,2.0),(6.1,2.0)],
 [(1.56,4.8),(1.62,4.5),(1.7,4.0),(1.8,3.4),(1.9,2.8),(2.0,2.3),(2.1,2.0),(2.2,1.95),(2.35,2.0),(2.5,1.9),(2.7,2.05),(2.9,1.95),(3.1,2.0),(3.3,1.95),(3.5,2.05),(3.7,1.9),(3.9,2.0),(4.2,1.95),(4.5,2.0),(4.8,1.95),(5.1,2.05),(5.4,1.95),(5.7,2.0),(6.0,1.95),(6.3,2.0),(6.6,1.95),(7.0,2.0),(7.4,1.95),(7.8,2.05),(8.3,1.95)],
 [(1.7,4.1),(1.76,3.6),(1.84,3.0),(1.94,2.5),(2.04,2.1),(2.14,1.95),(2.3,2.0),(2.5,1.95),(2.7,2.0),(3.0,1.95),(3.3,2.0),(3.6,1.95),(4.0,2.0),(4.4,1.95),(4.8,2.0),(5.2,1.95),(5.6,2.0),(6.0,2.05),(6.4,1.95),(6.8,2.0),(7.2,1.95),(7.6,2.0),(8.0,2.05),(8.4,1.95),(8.8,2.0),(9.2,1.95),(9.6,1.98),(10.0,1.95),(10.4,1.98),(10.7,1.9),(11.0,2.0)],
]
P15 = [
 [(1.62,4.18),(1.68,3.8),(1.76,3.3),(1.86,2.8),(1.96,2.4),(2.06,2.1),(2.16,1.95),(2.26,1.9),(2.4,2.0),(2.55,1.85),(2.7,1.95),(2.85,1.9),(3.0,1.95),(3.2,1.85),(3.4,1.95),(3.6,1.9),(3.8,1.95),(4.0,1.85),(4.3,1.95),(4.6,1.9),(4.9,1.95),(5.2,1.9),(5.5,1.85),(5.8,1.95),(6.1,1.9),(6.4,1.95),(6.7,1.85),(7.0,1.9)],
 [(1.66,4.0),(1.72,3.6),(1.8,3.1),(1.9,2.6),(2.0,2.2),(2.1,2.0),(2.2,1.95),(2.35,1.9),(2.5,1.95),(2.65,1.85),(2.8,1.9),(3.0,1.95),(3.2,1.9),(3.4,1.85),(3.6,1.95),(3.9,1.9),(4.2,1.95),(4.5,1.9),(4.8,1.85),(5.1,1.95),(5.4,2.0),(5.7,1.9),(6.0,1.95),(6.3,1.9),(6.6,1.95),(6.9,1.9),(7.2,1.95),(7.5,1.9),(7.8,1.95),(8.1,1.92),(8.6,1.94)],
 [(1.75,3.5),(1.82,3.0),(1.9,2.5),(2.0,2.1),(2.1,1.95),(2.25,1.9),(2.4,1.95),(2.6,1.9),(2.8,1.95),(3.0,1.85),(3.3,1.95),(3.6,1.9),(3.9,1.95),(4.2,1.9),(4.5,1.95),(4.8,1.9),(5.1,1.95),(5.4,1.9),(5.7,1.95),(6.0,1.9),(6.3,1.9)],
]
P16 = [
 [(1.66,1.95),(1.56,3.3),(1.49,4.5),(1.48,4.75),(1.54,4.7),(1.62,4.4),(1.72,3.8),(1.82,3.2),(1.92,2.6),(2.02,2.2),(2.12,2.0),(2.22,1.95),(2.35,1.9),(2.5,1.95),(2.7,1.9),(2.9,1.95),(3.1,1.9),(3.3,1.95),(3.5,1.9),(3.8,1.95),(4.1,1.9),(4.4,1.95),(4.7,1.85),(5.0,1.95),(5.3,1.9),(5.6,1.95),(6.0,1.9),(6.3,1.95)],
 [(1.62,4.37),(1.68,3.9),(1.76,3.3),(1.86,2.7),(1.96,2.2),(2.06,1.95),(2.16,1.9),(2.3,1.95),(2.45,1.9),(2.6,1.95),(2.8,1.9),(3.0,1.95),(3.2,1.9),(3.4,1.85),(3.6,1.95),(3.9,1.9),(4.2,1.95),(4.5,1.75),(4.8,1.9),(5.1,1.95),(5.4,1.9),(5.7,1.85),(6.0,1.9)],
 [(1.75,3.5),(1.82,3.0),(1.9,2.5),(2.0,2.1),(2.1,1.9),(2.25,1.95),(2.4,1.9),(2.6,1.95),(2.8,1.9),(3.1,1.95),(3.4,1.9),(3.7,1.95),(4.0,1.9),(4.3,1.95),(4.6,1.9),(4.9,1.95),(5.2,2.0),(5.5,1.9),(5.8,1.95),(6.1,1.9),(6.4,1.95),(6.7,1.9),(7.0,1.85),(7.3,1.9),(7.6,1.9),(7.9,2.0),(8.3,1.75)],
]
P17 = [
 [(1.65,1.9),(1.55,3.3),(1.48,4.5),(1.48,4.75),(1.54,4.7),(1.62,4.4),(1.72,3.8),(1.82,3.2),(1.92,2.7),(2.02,2.3),(2.12,2.05),(2.22,1.9),(2.35,1.85),(2.5,1.9),(2.7,1.85),(2.9,1.9),(3.1,1.85),(3.3,1.9),(3.5,1.8),(3.8,1.9),(4.1,1.85),(4.4,1.9),(4.7,1.85),(5.0,1.9),(5.3,1.95)],
 [(1.6,4.14),(1.66,3.7),(1.74,3.1),(1.84,2.5),(1.94,2.1),(2.04,1.9),(2.14,1.85),(2.3,1.9),(2.45,1.85),(2.6,1.9),(2.8,1.85),(3.0,1.9),(3.2,1.85),(3.5,1.9),(3.8,1.8),(4.1,1.9),(4.4,1.85),(4.7,1.9),(5.0,1.85),(5.3,1.9),(5.6,1.85),(5.9,1.9),(6.2,1.85),(6.5,1.9),(6.9,1.85)],
 [(1.72,3.4),(1.8,2.9),(1.88,2.4),(1.98,2.0),(2.08,1.85),(2.2,1.9),(2.35,1.85),(2.55,1.9),(2.75,1.85),(3.0,1.9),(3.3,1.85),(3.6,1.9),(3.9,1.85),(4.2,1.9),(4.5,1.85),(4.8,1.9),(5.1,1.85),(5.4,1.9),(5.7,1.85),(6.0,1.9),(6.3,1.85),(6.6,1.9),(6.9,1.92),(7.2,1.85),(7.5,1.78),(7.8,1.9),(8.1,1.85),(8.4,1.85),(8.8,1.87),(9.2,1.86),(9.6,1.87),(10.0,1.86),(10.4,1.87),(10.7,1.85)],
]
P18 = [
 [(1.6,4.1),(1.64,3.9),(1.72,3.4),(1.8,2.9),(1.88,2.4),(1.96,2.0),(2.04,1.95),(2.14,1.85),(2.25,1.9),(2.4,1.85),(2.55,1.9),(2.7,1.85),(2.85,1.9),(3.0,1.85),(3.2,1.9),(3.4,1.85),(3.6,1.9),(3.8,1.85),(4.0,1.9),(4.3,1.85),(4.6,1.9),(4.9,1.85),(5.2,1.9)],
 [(1.62,4.0),(1.7,3.5),(1.78,3.0),(1.86,2.5),(1.94,2.1),(2.02,1.9),(2.1,2.0),(2.2,1.85),(2.35,1.9),(2.5,1.85),(2.7,1.9),(2.9,1.85),(3.1,1.9),(3.3,1.82),(3.5,1.9),(3.7,1.85),(3.9,1.9),(4.1,1.95),(4.4,1.85),(4.7,1.9),(5.0,1.85),(5.3,1.9),(5.6,1.88),(5.9,1.85),(6.2,1.9),(6.5,1.88),(6.8,1.85),(7.1,1.9),(7.4,1.82),(7.7,1.9),(8.0,1.88),(8.4,1.85),(8.8,1.9),(9.2,1.88),(9.6,1.87),(10.0,1.9),(10.4,1.88),(10.7,1.9),(11.0,1.9)],
 [(2.2,1.95),(2.4,1.9),(2.6,1.85),(2.8,1.9),(3.0,1.85),(3.3,1.9),(3.6,1.85),(3.9,1.9),(4.2,1.85),(4.5,1.9),(4.8,1.85),(5.1,1.9),(5.4,1.85),(5.7,1.9)],
]
P19 = [
 [(1.62,1.9),(1.52,3.3),(1.46,4.5),(1.45,4.8),(1.5,4.78),(1.56,4.5),(1.64,4.0),(1.72,3.5),(1.82,3.0),(1.92,2.7),(2.02,2.5),(2.12,2.4),(2.2,2.3),(2.28,2.26)],
 [(1.58,4.1),(1.62,3.8),(1.68,3.2),(1.74,2.7),(1.8,2.2),(1.85,1.8),(1.92,1.85),(2.02,1.8),(2.15,1.85),(2.3,1.8),(2.45,1.85),(2.6,1.8),(2.8,1.85),(3.0,1.8),(3.2,1.78),(3.4,1.85),(3.6,1.8),(3.8,1.85),(4.0,1.8),(4.3,1.85),(4.6,1.8),(4.9,1.85),(5.2,1.82),(5.5,1.85),(5.8,1.9),(6.1,1.8),(6.5,1.8)],
 [(1.68,3.5),(1.74,3.0),(1.82,2.5),(1.9,2.1),(1.98,1.85),(2.1,1.8),(2.25,1.85),(2.4,1.8),(2.6,1.85),(2.8,1.8),(3.0,1.85),(3.3,1.8),(3.6,1.85),(3.9,1.8),(4.2,1.85),(4.5,1.8),(4.8,1.85),(5.1,1.9),(5.4,1.85),(5.7,1.75),(6.0,1.85),(6.3,1.9),(6.6,1.85),(6.9,1.85),(7.2,1.8),(7.5,1.82),(7.7,1.82)],
]
P20 = [
 [(1.62,1.85),(1.52,3.2),(1.46,4.4),(1.44,4.72),(1.5,4.65),(1.58,4.3),(1.68,3.7),(1.78,3.1),(1.88,2.6),(1.98,2.3),(2.06,2.1),(2.14,1.9),(2.25,1.85),(2.4,1.8),(2.55,1.85),(2.7,1.8),(2.9,1.85),(3.1,1.75),(3.3,1.85),(3.5,1.8),(3.7,1.85),(3.9,1.8),(4.1,1.85),(4.4,1.8),(4.7,1.85),(5.0,1.85),(5.3,1.9),(5.6,1.85),(5.9,1.8),(6.1,1.9)],
 [(1.62,3.6),(1.6,3.3),(1.66,3.4),(1.74,3.0),(1.82,2.5),(1.9,2.1),(1.98,1.85),(2.1,1.8),(2.25,1.85),(2.4,1.8),(2.6,1.85),(2.8,1.85),(3.0,1.8),(3.2,1.7),(3.4,1.85),(3.6,1.8),(3.8,1.85),(4.0,1.8),(4.3,1.85),(4.6,1.8),(4.9,1.9),(5.2,1.85),(5.5,1.8),(5.8,1.82),(6.1,1.85),(6.4,1.8),(6.7,1.9),(7.0,1.82),(7.3,1.82),(7.55,1.84)],
 [(1.7,3.2),(1.78,2.8),(1.86,2.4),(1.94,2.0),(2.02,1.85),(2.15,1.8),(2.3,1.85),(2.5,1.8),(2.7,1.85),(2.9,1.8),(3.1,1.85),(3.4,1.8),(3.7,1.85),(4.0,1.8),(4.3,1.85),(4.6,1.8),(4.9,1.85),(5.2,1.8),(5.5,1.75)],
]
P21 = [
 [(1.6,1.95),(1.52,3.3),(1.46,4.5),(1.47,4.81),(1.53,4.75),(1.6,4.5),(1.7,4.0),(1.8,3.5),(1.9,3.0),(2.0,2.7),(2.1,2.5),(2.2,2.4),(2.3,2.5),(2.36,2.32)],
 [(1.61,4.08),(1.66,3.6),(1.74,3.0),(1.82,2.5),(1.9,2.1),(1.98,1.8),(2.08,1.95),(2.2,1.9),(2.35,1.95),(2.5,1.85),(2.65,1.95),(2.8,1.9),(3.0,1.95),(3.2,1.9),(3.4,1.95),(3.6,1.85),(3.8,1.95),(4.0,1.9),(4.2,1.95),(4.4,1.9),(4.6,1.8),(4.8,1.9),(5.0,1.95),(5.2,1.9)],
 [(1.66,3.7),(1.72,3.2),(1.8,2.7),(1.88,2.3),(1.96,2.0),(2.05,1.9),(2.15,1.95),(2.3,1.85),(2.45,1.95),(2.6,1.9),(2.8,1.95),(3.0,1.85),(3.2,1.95),(3.4,2.0),(3.6,1.9),(3.8,1.95),(4.0,1.9),(4.3,1.95),(4.6,1.9),(4.9,1.95),(5.1,1.85),(5.3,1.9),(5.6,1.9),(5.9,1.9),(6.2,1.95),(6.5,1.92),(6.7,1.95),(6.97,2.03)],
]
P22 = [
 [(1.59,4.24),(1.62,4.0),(1.68,3.6),(1.76,3.1),(1.84,2.7),(1.92,2.3),(2.0,2.05),(2.08,1.95),(2.2,1.9),(2.3,2.0),(2.45,1.9),(2.6,1.95),(2.8,1.9),(3.0,1.95),(3.2,1.9),(3.4,1.85),(3.6,1.95),(3.8,1.9),(4.0,1.95),(4.3,1.9),(4.6,1.95),(4.9,1.9),(5.1,1.85),(5.4,1.8)],
 [(1.62,4.05),(1.68,3.5),(1.76,2.9),(1.84,2.4),(1.92,2.1),(2.0,1.95),(2.1,1.9),(2.25,1.95),(2.4,1.9),(2.55,1.95),(2.7,1.9),(2.9,1.95),(3.1,1.85),(3.3,1.95),(3.5,1.9),(3.7,1.95),(3.9,1.85),(4.1,1.95),(4.4,1.9),(4.7,1.95),(5.0,1.9),(5.3,1.9),(5.6,1.85),(5.9,1.9),(6.2,1.8),(6.5,1.95),(6.77,1.88)],
 [(2.1,2.1),(2.2,1.9),(2.35,1.95),(2.5,1.9),(2.7,1.95),(2.9,1.9),(3.1,1.95),(3.3,1.9),(3.6,1.95),(3.9,1.9),(4.2,1.95),(4.5,1.9),(4.8,1.95)],
]
P23 = [
 [(1.56,1.9),(1.46,3.3),(1.4,4.5),(1.4,4.77),(1.47,4.75),(1.54,4.4),(1.62,4.0),(1.7,3.6),(1.8,3.2),(1.9,3.0),(2.0,2.86)],
 [(1.59,4.0),(1.62,3.7),(1.68,3.1),(1.74,2.5),(1.8,2.0),(1.86,1.85),(1.95,1.9),(2.05,1.85),(2.2,1.9),(2.35,1.85),(2.5,1.95),(2.65,1.85),(2.8,1.9),(3.0,1.95),(3.2,1.8),(3.4,1.9),(3.6,1.95),(3.8,1.75),(4.0,1.9),(4.3,1.85),(4.6,1.9),(4.9,1.95),(5.2,1.85),(5.5,1.95),(5.8,1.9),(6.1,1.9),(6.4,1.9),(6.7,1.9)],
 [(1.65,3.5),(1.7,3.1),(1.78,2.6),(1.86,2.2),(1.94,1.95),(2.05,1.9),(2.2,1.95),(2.35,1.85),(2.5,1.9),(2.7,1.95),(2.9,1.9),(3.1,1.85),(3.3,1.9),(3.5,1.95),(3.7,1.9),(3.9,1.9),(4.2,1.95),(4.4,1.85)],
]
P24 = [
 [(1.55,1.95),(1.46,3.3),(1.4,4.5),(1.4,4.75),(1.46,4.72),(1.54,4.4),(1.62,4.0),(1.7,3.6),(1.8,3.3),(1.9,3.1),(1.97,2.93)],
 [(1.59,4.08),(1.6,3.8),(1.66,3.2),(1.72,2.6),(1.78,2.1),(1.84,1.9),(1.92,1.85),(2.02,1.9),(2.15,1.85),(2.3,1.9),(2.45,1.82),(2.6,1.9),(2.8,1.85),(3.0,1.9),(3.2,1.8),(3.4,1.9),(3.6,1.85),(3.8,1.9),(4.0,1.85),(4.2,1.9),(4.4,1.8)],
 [(1.64,3.6),(1.7,3.0),(1.78,2.5),(1.86,2.1),(1.94,1.9),(2.05,1.85),(2.2,1.9),(2.4,1.85),(2.6,1.9),(2.8,1.82),(3.0,1.9),(3.3,1.85),(3.6,1.9),(3.9,1.85),(4.2,1.9),(4.5,1.85),(4.8,1.9),(5.1,1.85),(5.4,1.88),(5.7,1.85),(6.0,1.82),(6.2,1.88)],
]
P25 = [
 [(1.52,1.95),(1.44,3.3),(1.4,4.5),(1.41,5.0),(1.42,4.75),(1.48,4.7),(1.56,4.4),(1.64,4.0),(1.72,3.6),(1.82,3.2),(1.92,2.95),(1.98,2.8)],
 [(1.59,3.95),(1.62,3.6),(1.68,3.0),(1.74,2.4),(1.8,1.95),(1.88,1.9),(1.98,1.95),(2.1,1.85),(2.25,1.95),(2.4,1.9),(2.55,1.95),(2.7,1.85),(2.9,1.95),(3.1,1.9),(3.3,1.95),(3.5,1.9),(3.7,1.95),(3.9,1.85),(4.1,1.95),(4.3,1.9),(4.5,1.85),(4.7,1.9)],
 [(1.66,3.4),(1.72,2.9),(1.8,2.4),(1.88,2.0),(1.96,1.85),(2.05,1.8),(2.15,1.95),(2.3,1.9),(2.5,1.95),(2.7,1.9),(2.9,1.85),(3.1,1.95),(3.4,1.9),(3.7,1.95),(4.0,1.9),(4.3,1.95),(4.6,1.9),(4.9,1.92),(5.2,1.93),(5.5,1.92),(5.8,1.9),(6.1,1.88)],
]
P26 = [
 [(1.52,2.0),(1.45,3.3),(1.41,4.5),(1.42,4.75),(1.48,4.7),(1.56,4.4),(1.66,3.9),(1.76,3.4),(1.86,3.0),(1.96,2.7),(2.06,2.5),(2.16,2.35),(2.29,2.26)],
 [(1.57,3.8),(1.6,3.5),(1.66,3.0),(1.72,2.4),(1.77,1.88),(1.84,1.95),(1.94,1.9),(2.04,1.95),(2.15,1.8),(2.25,1.95),(2.35,1.9),(2.5,2.0),(2.65,1.85),(2.8,1.95),(3.0,1.85),(3.2,1.9),(3.4,1.95),(3.6,1.85),(3.8,1.95),(4.0,1.9)],
 [(1.62,3.4),(1.68,2.9),(1.76,2.4),(1.84,2.05),(1.92,1.95),(2.02,1.85),(2.12,1.95),(2.3,1.9),(2.5,1.95),(2.7,1.9),(2.9,1.95),(3.1,1.85),(3.3,1.95),(3.6,1.9),(3.9,1.95),(4.2,1.9),(4.5,1.9),(4.8,1.88),(5.1,1.9),(5.4,1.92),(5.85,1.94)],
]
P27 = [
 [(1.52,1.95),(1.45,3.3),(1.41,4.5),(1.42,4.75),(1.48,4.7),(1.56,4.4),(1.66,3.9),(1.76,3.4),(1.86,3.0),(1.96,2.7),(2.06,2.5),(2.16,2.35),(2.31,2.23)],
 [(1.55,3.85),(1.58,3.6),(1.64,3.0),(1.7,2.4),(1.76,1.9),(1.84,1.95),(1.94,1.88),(2.04,1.95),(2.15,1.9),(2.3,1.95),(2.45,1.85),(2.6,1.95),(2.8,1.9),(3.0,1.95),(3.2,1.8),(3.4,1.9),(3.6,1.95),(3.8,1.85),(4.0,1.9)],
 [(1.6,3.5),(1.66,3.0),(1.74,2.5),(1.82,2.1),(1.9,1.9),(2.0,1.95),(2.12,1.9),(2.3,1.95),(2.5,1.9),(2.7,1.85),(2.9,1.95),(3.1,1.9),(3.3,1.95),(3.5,1.85),(3.7,1.95),(3.9,1.9),(4.1,1.85),(4.3,1.95),(4.5,1.85),(4.8,1.9),(5.1,1.85),(5.3,1.82),(5.55,1.95)],
]
P28 = [
 [(1.52,2.0),(1.45,3.3),(1.4,4.5),(1.41,4.72),(1.47,4.68),(1.55,4.4),(1.65,3.9),(1.75,3.4),(1.85,3.0),(1.95,2.75),(2.05,2.6),(2.15,2.45),(2.25,2.38)],
 [(1.55,3.8),(1.58,3.5),(1.64,2.9),(1.7,2.3),(1.76,2.0),(1.84,1.95),(1.92,1.9),(2.0,2.0),(2.12,1.95),(2.25,2.05),(2.4,1.95),(2.6,2.0),(2.8,1.95),(3.0,2.0),(3.2,1.95),(3.4,2.0)],
 [(1.6,3.6),(1.66,3.0),(1.74,2.5),(1.82,2.1),(1.9,1.95),(2.0,1.9),(2.1,2.0),(2.25,1.95),(2.45,2.05),(2.65,1.95),(2.85,2.0),(3.05,1.95),(3.25,2.0),(3.45,1.95),(3.65,2.0),(3.85,2.02),(4.05,2.02)],
]
P29 = [
 [(1.55,3.74),(1.58,3.5),(1.64,3.0),(1.7,2.6),(1.76,2.2),(1.82,2.0),(1.9,1.95),(2.0,2.0),(2.1,1.95),(2.25,2.0),(2.4,1.95),(2.55,2.0),(2.7,1.95),(2.85,2.0),(3.0,1.92),(3.2,1.95),(3.4,1.9),(3.55,1.95)],
 [(1.58,3.6),(1.62,3.3),(1.68,2.9),(1.74,2.5),(1.8,2.2),(1.87,1.98),(1.96,2.05),(2.06,1.95),(2.2,2.05),(2.35,1.95),(2.5,2.0),(2.65,1.95),(2.8,2.0),(2.95,1.95),(3.1,1.85),(3.25,2.0),(3.4,1.95),(3.5,1.8),(3.65,2.0),(3.85,1.95),(4.05,2.02)],
]
P30 = [
 [(1.5,2.0),(1.43,3.2),(1.38,4.4),(1.39,4.68),(1.45,4.65),(1.53,4.4),(1.63,3.9),(1.73,3.4),(1.83,3.0),(1.93,2.7),(2.03,2.5),(2.13,2.4),(2.23,2.3),(2.36,2.23)],
 [(1.57,3.57),(1.6,3.2),(1.66,2.7),(1.72,2.3),(1.78,2.05),(1.86,2.0),(1.96,1.95),(2.06,2.0),(2.2,1.95),(2.35,2.0),(2.5,1.95),(2.65,2.0),(2.8,1.98),(3.0,2.0),(3.2,1.95),(3.4,1.95),(3.6,1.95),(3.73,1.69),(3.88,2.0)],
 [(1.62,3.2),(1.68,2.8),(1.76,2.4),(1.84,2.1),(1.92,1.95),(2.02,2.0),(2.15,1.85),(2.3,2.0),(2.45,1.95),(2.6,2.0),(2.8,1.95),(3.0,2.0)],
]
DAYS = [P1, P2, P3, P4, P5, P6, P7, P8, P9, P10,
        P11, P12, P13, P14, P15, P16, P17, P18, P19, P20,
        P21, P22, P23, P24, P25, P26, P27, P28, P29, P30]

# ---- Dst (nT) over the month ------------------------------------------------
DST_DAY = [1.0,1.1,1.2,1.35,1.5,1.7,1.9,2.05,2.2,2.4,2.5,2.6,2.8,2.95,3.1,3.25,3.4,3.55,3.7,3.85,4.0,4.2,4.4,4.6,4.75,4.9,5.1,5.3,5.45,5.6,5.75,5.9,6.1,6.3,6.5,6.65,6.8,6.95,7.1,7.25,7.4,7.6,7.8,7.9,8.0,8.1,8.2,8.3,8.4,8.5,8.6,8.75,8.9,9.05,9.2,9.35,9.5,9.7,9.9,10.05,10.2,10.35,10.5,10.7,10.9,11.05,11.2,11.35,11.5,11.7,11.9,12.05,12.2,12.4,12.6,12.75,12.9,13.05,13.2,13.35,13.5,13.7,13.9,14.0,14.1,14.25,14.4,14.55,14.7,14.85,15.0,15.1,15.2,15.3,15.4,15.55,15.7,15.85,16.0,16.15,16.3,16.45,16.6,16.75,16.9,17.05,17.2,17.35,17.5,17.65,17.8,17.95,18.1,18.25,18.4,18.6,18.8,18.95,19.1,19.25,19.4,19.55,19.7,19.85,20.0,20.15,20.3,20.45,20.6,20.75,20.9,21.05,21.2,21.4,21.6,21.8,22.0,22.2,22.4,22.6,22.8,23.0,23.2,23.4,23.6,23.8,24.0,24.15,24.3,24.45,24.6,24.7,24.8,24.9,25.0,25.15,25.3,25.45,25.6,25.75,25.9,26.0,26.1,26.2,26.3,26.4,26.5,26.65,26.8,26.95,27.1,27.3,27.5,27.7,27.9,28.1,28.3,28.5,28.7,28.9,29.1,29.25,29.4,29.55,29.7,29.85,30.0,30.15,30.3,30.45,30.6,30.75,30.9,31.0]
DST_NT = [-10,-4,-1,1,2,0,3,1,0,7,3,0,-1,-5,-9,-6,-7,-3,-4,-6,-3,-5,-5,-1,2,3,5,9,10,8,11,7,5,4,5,3,6,4,7,5,9,14,12,6,-1,-5,-7,-12,-18,-12,-10,-8,-7,-9,-7,-5,-5,-6,-4,-2,-1,-3,1,0,2,1,3,1,2,4,6,3,5,7,7,4,2,5,9,4,6,10,13,11,10,5,1,-3,-7,-10,-15,-11,-10,-14,-18,-12,-7,-8,-5,-6,-4,-7,-7,-4,-3,-1,1,0,3,6,10,5,3,5,6,3,2,5,9,4,1,4,10,6,2,5,9,3,-1,-2,-4,-2,-1,-3,-4,-2,1,-1,-1,0,2,0,1,3,5,4,7,9,10,8,6,0,-4,-10,-18,-15,-14,-15,-13,-11,-10,-12,-14,-20,-28,-20,-15,-10,-7,-5,-4,-3,-3,-1,-1,0,1,2,3,1,2,4,5,3,-4,-5,-4,-5,-4,-4,-3,-1,1,0]

L_TICKS = [1, 2, 3, 4, 5, 6, 7, 8, 9, 10]
L_LABELS = ['L', '2', '', '4', '', '6', '', '8', '', '10']
Y_TICKS = [1e1, 1e2, 1e3, 1e4, 1e5]
Y_LABELS = [r'$\mathregular{10^{1}}$', '', r'$\mathregular{10^{3}}$', '', r'$\mathregular{10^{5}}$']
DAY_TICKS = [5.5, 10.5, 15.5, 20.5, 25.5, 30.5]
DAY_LABELS = ['5', '10', '15', '20', '25', '30']

W, H = 1450, 2046
fig = plt.figure(figsize=(W / 100, H / 100), dpi=100)

def box(x0, y0, w, h):
    return [x0 / W, 1 - (y0 + h) / H, w / W, h / H]

COL_X, COL_W, ROW_Y, ROW_H = 114, 444.4, 54, 174
EDGE = '#555555'

def style_panel(ax, ylabels, xlabels):
    ax.set_xlim(1, 11)
    ax.set_yscale('log')
    ax.set_ylim(1, 1e6)
    ax.set_xticks(L_TICKS)
    ax.set_xticklabels(L_LABELS if xlabels else [])
    ax.set_yticks(Y_TICKS)
    ax.set_yticklabels(Y_LABELS if ylabels else [])
    ax.minorticks_off()
    for s in ax.spines.values():
        s.set_color(EDGE)
        s.set_linewidth(1.1)
    ax.tick_params(direction='in', length=8, width=0.8, color='#333333',
                   top=True, right=True)
    ax.tick_params(axis='x', labelsize=21, pad=7)
    ax.tick_params(axis='y', labelsize=13, pad=3)
    ax.set_facecolor('none')

for i, curves in enumerate(DAYS):
    c, r = divmod(i, 10)
    ax = fig.add_axes(box(COL_X + c * COL_W, ROW_Y + r * ROW_H, COL_W, ROW_H))
    for cur in curves:
        a = np.array(cur)
        ax.plot(a[:, 0], 10 ** a[:, 1], color='black', lw=0.75)
    style_panel(ax, ylabels=(c == 0), xlabels=(r == 9 and c < 2))
    tr = blended_transform_factory(ax.transAxes, ax.transData)
    ax.text(1 - 17 / COL_W, 10 ** 4.47, str(i + 1), transform=tr,
            ha='right', va='baseline', fontsize=31)

# empty panel below day 30
ax = fig.add_axes(box(COL_X + 2 * COL_W, ROW_Y + 10 * ROW_H, COL_W, ROW_H))
style_panel(ax, ylabels=False, xlabels=True)

# Dst panel
ax = fig.add_axes(box(85, 1854, 889, 116))
ax.plot(DST_DAY, DST_NT, color='black', lw=0.7, clip_on=False)
ax.plot([1, 32], [0, 0], color='black', lw=1.0, clip_on=False)
for d in [6, 11, 16, 21, 26]:
    ax.axvline(d, color='black', lw=0.8)
ax.set_xlim(1, 31)
ax.set_ylim(-200, 0)
ax.set_yticks([])
ax.set_xticks(DAY_TICKS)
ax.set_xticklabels(DAY_LABELS)
ax.set_xticks(range(2, 31), minor=True)
ax.tick_params(axis='x', which='major', length=0, labelsize=19, pad=16)
ax.tick_params(axis='x', which='minor', direction='in', length=5, width=0.7,
               top=True, bottom=True)
ax.spines['top'].set_visible(False)
for s in ['left', 'right', 'bottom']:
    ax.spines[s].set_linewidth(0.9)
    ax.spines[s].set_color('#222222')
fig.text(86 / W, 1 - 1847 / H, 'Dst', fontsize=16, ha='left', va='baseline')

# title line
fig.text(115 / W, 1 - 47 / H, 'EXOS-D RDM', fontsize=36, ha='left', va='baseline')
fig.text(561 / W, 1 - 47 / H, '2009   11', fontsize=36, ha='left', va='baseline')
fig.text(930 / W, 1 - 47 / H, '> 2.5  MeV Electrons', fontsize=36, ha='left', va='baseline')

fig.savefig('out.png', dpi=100)
